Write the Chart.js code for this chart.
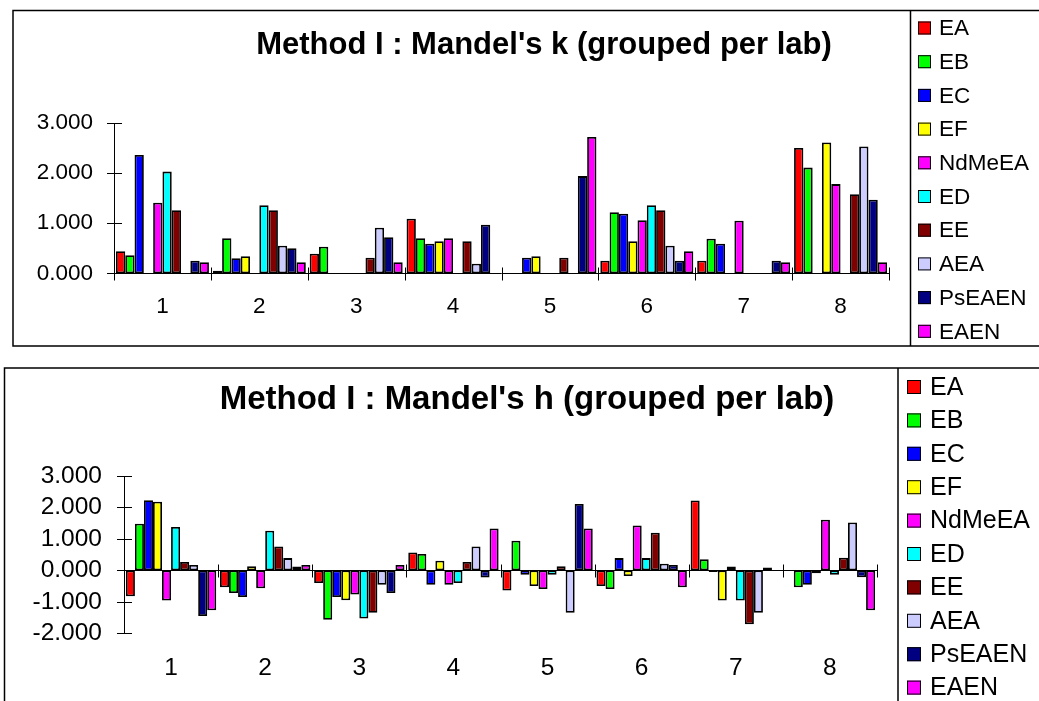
<!DOCTYPE html>
<html>
<head>
<meta charset="utf-8">
<script src="https://cdn.jsdelivr.net/npm/chart.js@4.4.1/dist/chart.umd.min.js"></script>
<style>
  html, body { margin: 0; padding: 0; background: #fff; overflow: hidden; }
  canvas { position: absolute; left: 0; }
  #kChart { top: 0; }
  #hChart { top: 355px; }
</style>
</head>
<body>
<canvas id="kChart" width="1039" height="355"></canvas>
<canvas id="hChart" width="1039" height="346"></canvas>
<script>
// labs on the category axis
const labs = ['1', '2', '3', '4', '5', '6', '7', '8'];
const series = ['EA', 'EB', 'EC', 'EF', 'NdMeEA', 'ED', 'EE', 'AEA', 'PsEAEN', 'EAEN'];
const colours = ['#ff0000', '#00ff00', '#0000ff', '#ffff00', '#ff00ff', '#00ffff', '#800000', '#ccccff', '#000080', '#ff00ff'];

// Mandel's k per lab
const kEA     = [0.44, 0.05, 0.39, 1.09, null, 0.25, 0.25, 2.50];
const kEB     = [0.36, 0.70, 0.53, 0.70, null, 1.22, 0.69, 2.11];
const kEC     = [2.36, 0.30, null, 0.59, 0.31, 1.19, 0.59, null];
const kEF     = [null, 0.34, null, 0.64, 0.34, 0.64, null, 2.61];
const kNdMeEA = [1.41, null, null, 0.70, null, 1.06, 1.05, 1.78];
const kED     = [2.03, 1.36, null, null, null, 1.36, null, null];
const kEE     = [1.26, 1.26, 0.31, 0.64, 0.31, 1.26, null, 1.58];
const kAEA    = [null, 0.55, 0.91, 0.19, null, 0.55, null, 2.53];
const kPsEAEN = [0.25, 0.50, 0.72, 0.97, 1.94, 0.25, 0.25, 1.47];
const kEAEN   = [0.22, 0.22, 0.22, null, 2.72, 0.44, 0.22, 0.22];

// Mandel's h per lab
const hEA     = [-0.82, -0.54, -0.40, 0.57, -0.64, -0.50, 2.22, null];
const hEB     = [1.48, -0.72, -1.57, 0.52, 0.94, -0.59, 0.35, -0.54];
const hEC     = [2.23, -0.85, -0.85, -0.46, -0.14, 0.39, -0.05, -0.46];
const hEF     = [2.18, 0.13, -0.95, 0.31, -0.50, -0.18, -0.96, -0.09];
const hNdMeEA = [-0.96, -0.57, -0.77, -0.46, -0.59, 1.43, 0.12, 1.61];
const hED     = [1.38, 1.26, -1.53, -0.40, -0.14, 0.39, -0.96, -0.14];
const hEE     = [0.27, 0.76, -1.35, 0.27, 0.13, 1.20, -1.71, 0.40];
const hAEA    = [0.17, 0.39, -0.46, 0.76, -1.35, 0.21, -1.35, 1.52];
const hPsEAEN = [-1.45, 0.12, -0.72, -0.23, 2.11, 0.17, 0.09, -0.22];
const hEAEN   = [-1.27, 0.17, 0.17, 1.33, 1.33, -0.54, null, -1.27];

const kData = [kEA, kEB, kEC, kEF, kNdMeEA, kED, kEE, kAEA, kPsEAEN, kEAEN];
const hData = [hEA, hEB, hEC, hEF, hNdMeEA, hED, hEE, hAEA, hPsEAEN, hEAEN];

const FONT = '"Liberation Sans", Arial, sans-serif';

// frame, title, legend box and the crossing axis ticks, drawn the old spreadsheet way
const sheetPlugin = {
  id: 'sheet',
  afterDatasetsDraw(chart, args, o) {
    const ctx = chart.ctx, a = chart.chartArea, y = chart.scales.y;
    ctx.save();
    ctx.strokeStyle = '#000';
    ctx.lineWidth = 1;

    // y axis line + ticks
    ctx.beginPath();
    ctx.moveTo(a.left + 0.5, a.top);
    ctx.lineTo(a.left + 0.5, a.bottom);
    y.ticks.forEach(t => {
      const py = Math.round(y.getPixelForValue(t.value)) + 0.5;
      ctx.moveTo(a.left - 7, py);
      ctx.lineTo(a.left + 8, py);
    });
    // baseline at zero with category ticks
    const y0 = Math.round(y.getPixelForValue(0)) + 0.5;
    ctx.moveTo(a.left, y0);
    ctx.lineTo(a.right, y0);
    const step = (a.right - a.left) / labs.length;
    for (let i = 0; i <= labs.length; i++) {
      const px = Math.round(a.left + i * step) + 0.5;
      ctx.moveTo(px, y0 - 6);
      ctx.lineTo(px, y0 + 7);
    }
    ctx.stroke();

    // outer frame and legend divider
    ctx.lineWidth = 1.5;
    ctx.beginPath();
    ctx.moveTo(chart.width + 5, o.frameTop);
    ctx.lineTo(o.frameLeft, o.frameTop);
    ctx.lineTo(o.frameLeft, o.frameBottom);
    ctx.lineTo(chart.width + 5, o.frameBottom);
    ctx.moveTo(o.legendX, o.frameTop);
    ctx.lineTo(o.legendX, o.frameBottom);
    ctx.stroke();

    // title
    ctx.fillStyle = '#000';
    ctx.font = 'bold ' + o.titleSize + 'px ' + FONT;
    ctx.textAlign = 'center';
    ctx.textBaseline = 'middle';
    ctx.fillText(o.title, o.titleX, o.titleY);

    // legend
    ctx.font = o.legendSize + 'px ' + FONT;
    ctx.textAlign = 'left';
    chart.data.datasets.forEach((ds, i) => {
      const cy = o.legendTop + i * o.legendStep;
      ctx.fillStyle = ds.backgroundColor;
      ctx.fillRect(o.boxX, cy - o.box / 2, o.box, o.box);
      ctx.lineWidth = 1;
      ctx.strokeRect(o.boxX + 0.5, cy - o.box / 2 + 0.5, o.box - 1, o.box - 1);
      ctx.fillStyle = '#000';
      ctx.fillText(ds.label, o.textX, cy + 1);
    });
    ctx.restore();
  }
};

function makeChart(id, data, min, max, fontSize, padding, sheet) {
  return new Chart(document.getElementById(id), {
    type: 'bar',
    data: {
      labels: labs,
      datasets: series.map((name, i) => ({
        label: name,
        data: data[i],
        backgroundColor: colours[i],
        borderColor: '#000',
        borderWidth: 1.8,
        borderSkipped: false,
        categoryPercentage: 0.96,
        barPercentage: 1.0
      }))
    },
    options: {
      responsive: false,
      animation: false,
      devicePixelRatio: 1,
      layout: { padding },
      plugins: {
        legend: { display: false },
        title: { display: false },
        tooltip: { enabled: false },
        sheet
      },
      scales: {
        x: {
          grid: { display: false, drawTicks: false },
          border: { display: false },
          ticks: { color: '#000', font: { family: FONT, size: fontSize }, padding: sheet.xPad, maxRotation: 0 },
          afterFit: s => { s.height = 50; }
        },
        y: {
          min, max,
          grid: { display: false, drawTicks: false },
          border: { display: false },
          ticks: { stepSize: 1, autoSkip: false, color: '#000', font: { family: FONT, size: fontSize }, padding: sheet.yPad,
                   callback: v => v.toFixed(3) },
          afterFit: s => { s.width = 100; }
        }
      }
    },
    plugins: [sheetPlugin]
  });
}

makeChart('kChart', kData, 0, 3, 22.5,
  { left: 14, right: 150, top: 123, bottom: 31.7 },
  { title: "Method I : Mandel's k (grouped per lab)", titleSize: 31, titleX: 544, titleY: 45,
    frameLeft: 13, frameTop: 10.5, frameBottom: 346, legendX: 910.5,
    legendTop: 28, legendStep: 33.7, legendSize: 22.5, box: 13, boxX: 918, textX: 939,
    xPad: 20, yPad: 21 });

makeChart('hChart', hData, -2, 3, 24.5,
  { left: 24, right: 162, top: 121, bottom: 17.7 },
  { title: "Method I : Mandel's h (grouped per lab)", titleSize: 33, titleX: 527, titleY: 45,
    frameLeft: 4.5, frameTop: 13, frameBottom: 400, legendX: 898,
    legendTop: 32, legendStep: 33.4, legendSize: 25, box: 14, boxX: 907, textX: 930,
    xPad: 20, yPad: 22 });
</script>
</body>
</html>
